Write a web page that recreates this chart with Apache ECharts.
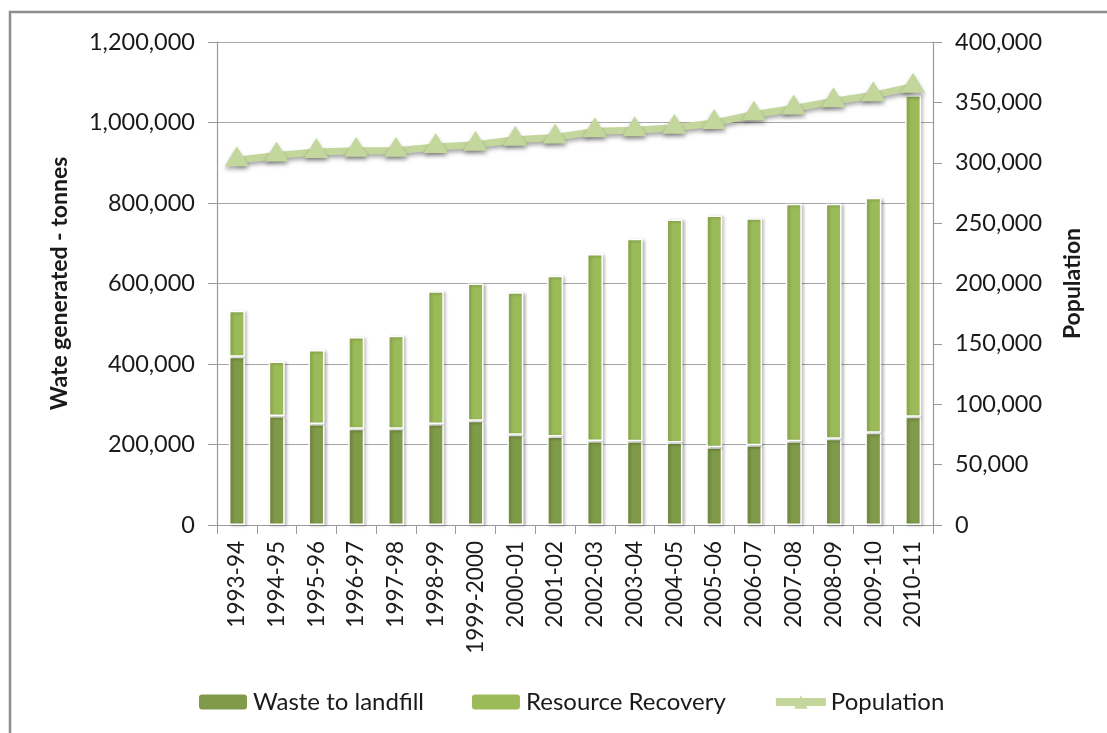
<!DOCTYPE html>
<html>
<head>
<meta charset="utf-8">
<script src="https://cdn.jsdelivr.net/npm/echarts@6/dist/echarts.min.js"></script>
<style>
  html, body { margin: 0; padding: 0; background: #ffffff; }
  #chart { width: 1107px; height: 733px; }
</style>
</head>
<body>
<div id="chart"></div>
<script>
// Financial years
const years = ['1993-94', '1994-95', '1995-96', '1996-97', '1997-98', '1998-99', '1999-2000',
  '2000-01', '2001-02', '2002-03', '2003-04', '2004-05', '2005-06', '2006-07', '2007-08',
  '2008-09', '2009-10', '2010-11'];

// Tonnes sent to landfill
const wasteToLandfill = [418000, 271000, 251000, 239000, 239000, 251000, 259000,
  224000, 220000, 209000, 208000, 205000, 193000, 198000, 208000, 214000, 229000, 269000];

// Tonnes recovered (stacked on landfill; totals give the bar heights)
const totalGenerated = [532000, 406000, 435000, 467000, 470000, 581000, 600000,
  578000, 619000, 673000, 711000, 759000, 769000, 762000, 798000, 798000, 813000, 1068000];
const resourceRecovery = totalGenerated.map((t, i) => t - wasteToLandfill[i]);

// Resident population
const population = [302000, 306000, 309000, 310000, 310000, 313000, 315000,
  319000, 321000, 326000, 327000, 329000, 333000, 340000, 345000, 351000, 356000, 363000];

// Axis ranges
const tonnesAxis = { min: 0, max: 1200000, interval: 200000 };
const populationAxis = { min: 0, max: 400000, interval: 50000 };

const FONT = 'Lato, "Open Sans", sans-serif';
const fmt = v => Number(v).toLocaleString('en-US');

const chart = echarts.init(document.getElementById('chart'), null, { renderer: 'canvas' });

chart.setOption({
  backgroundColor: '#ffffff',
  animation: false,
  textStyle: { fontFamily: FONT },
  graphic: [{
    type: 'rect',
    z: 100,
    silent: true,
    shape: { x: 10, y: 12, width: 1300, height: 900 },
    style: { fill: 'none', stroke: '#8e8e8e', lineWidth: 2.5 }
  }],
  grid: { left: 217, right: 174, top: 42, bottom: 208 },
  legend: {
    top: 685,
    left: 192,
    itemWidth: 50,
    itemHeight: 17,
    itemGap: 46,
    textStyle: { fontFamily: FONT, fontSize: 24, color: '#1a1a1a', padding: [0, 0, 0, 0] },
    data: [
      { name: 'Waste to landfill' },
      { name: 'Resource Recovery' },
      { name: 'Population', lineStyle: { width: 8, color: '#c3d69b' } }
    ]
  },
  xAxis: {
    type: 'category',
    data: years,
    boundaryGap: true,
    axisLine: { lineStyle: { color: '#9a9a9a', width: 1.2 } },
    axisTick: { show: true, alignWithLabel: false, length: 9, lineStyle: { color: '#9a9a9a' } },
    axisLabel: {
      rotate: 90,
      margin: 16,
      interval: 0,
      fontFamily: FONT,
      fontSize: 22.5,
      color: '#1a1a1a'
    }
  },
  yAxis: [{
    type: 'value',
    position: 'left',
    min: tonnesAxis.min,
    max: tonnesAxis.max,
    interval: tonnesAxis.interval,
    name: 'Wate generated - tonnes',
    nameLocation: 'middle',
    nameGap: 146,
    nameRotate: 90,
    nameTextStyle: { fontFamily: FONT, fontSize: 23, fontWeight: 'bold', color: '#1a1a1a' },
    axisLine: { show: true, lineStyle: { color: '#9a9a9a', width: 1.2 } },
    axisTick: { show: true, length: 9, lineStyle: { color: '#9a9a9a' } },
    axisLabel: { margin: 22, fontFamily: FONT, fontSize: 23.5, color: '#1a1a1a', formatter: fmt },
    splitLine: { show: true, lineStyle: { color: '#a6a6a6', width: 1.2 } }
  }, {
    type: 'value',
    position: 'right',
    min: populationAxis.min,
    max: populationAxis.max,
    interval: populationAxis.interval,
    name: 'Population',
    nameLocation: 'middle',
    nameGap: 128,
    nameRotate: 90,
    nameTextStyle: { fontFamily: FONT, fontSize: 23, fontWeight: 'bold', color: '#1a1a1a' },
    axisLine: { show: true, lineStyle: { color: '#9a9a9a', width: 1.2 } },
    axisTick: { show: true, length: 9, lineStyle: { color: '#9a9a9a' } },
    axisLabel: { margin: 22, fontFamily: FONT, fontSize: 23.5, color: '#1a1a1a', formatter: fmt },
    splitLine: { show: false }
  }],
  series: [{
    name: 'Waste to landfill',
    type: 'bar',
    stack: 'waste',
    yAxisIndex: 0,
    barWidth: 16,
    data: wasteToLandfill,
    itemStyle: {
      color: '#7f9a48',
      borderColor: '#ffffff',
      borderWidth: 1.5,
      shadowColor: 'rgba(0,0,0,0.25)',
      shadowBlur: 3,
      shadowOffsetX: 2,
      shadowOffsetY: 1
    }
  }, {
    name: 'Resource Recovery',
    type: 'bar',
    stack: 'waste',
    yAxisIndex: 0,
    barWidth: 16,
    data: resourceRecovery,
    itemStyle: {
      color: '#9bbb59',
      borderColor: '#ffffff',
      borderWidth: 1.5,
      shadowColor: 'rgba(0,0,0,0.25)',
      shadowBlur: 3,
      shadowOffsetX: 2,
      shadowOffsetY: 1
    }
  }, {
    name: 'Population',
    type: 'line',
    yAxisIndex: 1,
    data: population,
    z: 5,
    symbol: 'triangle',
    symbolSize: [24, 20],
    symbolOffset: [0, -4],
    lineStyle: {
      color: '#c3d69b',
      width: 7,
      shadowColor: 'rgba(0,0,0,0.35)',
      shadowBlur: 4,
      shadowOffsetY: 3
    },
    itemStyle: {
      color: '#c3d69b',
      shadowColor: 'rgba(0,0,0,0.35)',
      shadowBlur: 4,
      shadowOffsetY: 3
    }
  }]
});
</script>
</body>
</html>
